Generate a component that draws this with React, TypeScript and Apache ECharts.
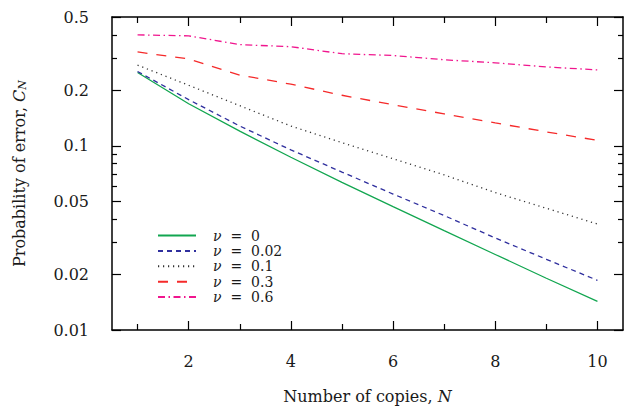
import React, { useEffect, useRef } from "react";
import * as echarts from "echarts";

const copies = [1, 2, 3, 4, 5, 6, 7, 8, 9, 10];
const nu0 = [0.25, 0.169, 0.12, 0.0866, 0.0633, 0.0467, 0.0346, 0.0257, 0.0191, 0.0143];
const nu002 = [0.253, 0.178, 0.128, 0.095, 0.072, 0.0547, 0.0418, 0.0316, 0.0242, 0.0186];
const nu01 = [0.274, 0.213, 0.165, 0.128, 0.104, 0.085, 0.0695, 0.0557, 0.0458, 0.0376];
const nu03 = [0.323, 0.296, 0.242, 0.216, 0.188, 0.167, 0.149, 0.133, 0.119, 0.107];
const nu06 = [0.4, 0.395, 0.354, 0.345, 0.316, 0.309, 0.293, 0.282, 0.268, 0.258];
const legendNames = ["ν = 0", "ν = 0.02", "ν = 0.1", "ν = 0.3", "ν = 0.6"];
const xMajorTicks = [2, 4, 6, 8, 10];
const xMinorTicks = [1, 3, 5, 7, 9];
const yMajorTicks = [0.01, 0.02, 0.05, 0.1, 0.2, 0.5];
const yMinorTicks = [0.03, 0.04, 0.06, 0.07, 0.08, 0.09, 0.3, 0.4];

const FONT = "'DejaVu Serif', 'Liberation Serif', serif";
const TXT = "#1a1a1a";
const FS = 16;
const LFS = 14;

export default function App() {
  const ref = useRef<HTMLDivElement>(null);
  useEffect(() => {
    if (!ref.current) return;
    const chart = echarts.init(ref.current, null, { renderer: "svg" });
    const mk = (ys: number[]) => copies.map((x, i) => [x, ys[i]]);
    const axisLine = { show: true, onZero: false, lineStyle: { color: "#000", width: 1.5 } };
    const xBase = (pos: string, ticks: number[], len: number, labels: boolean, line: boolean) => ({
      type: "value",
      position: pos,
      min: 0.5,
      max: 10.5,
      axisLine: line ? axisLine : { show: false },
      axisTick: { show: true, inside: true, length: len, customValues: ticks, lineStyle: { color: "#000", width: 1.2 } },
      axisLabel: labels
        ? { show: true, customValues: ticks, fontFamily: FONT, fontSize: FS, color: TXT, margin: 23 }
        : { show: false },
      splitLine: { show: false },
    });
    const yBase = (pos: string, ticks: number[], len: number, labels: boolean, line: boolean) => ({
      type: "log",
      logBase: 10,
      position: pos,
      min: 0.01,
      max: 0.5,
      axisLine: line ? axisLine : { show: false },
      axisTick: { show: true, inside: true, length: len, customValues: ticks, lineStyle: { color: "#000", width: 1.2 } },
      axisLabel: labels
        ? { show: true, customValues: ticks, fontFamily: FONT, fontSize: FS, color: TXT, margin: 23, formatter: (v: number) => String(+v.toPrecision(3)) }
        : { show: false },
      splitLine: { show: false },
      minorTick: { show: false },
      minorSplitLine: { show: false },
    });
    const xAxes: any[] = [
      {
        ...xBase("bottom", xMajorTicks, 9, true, true),
        name: "Number of copies, {it|N}",
        nameLocation: "middle",
        nameGap: 58,
        nameTextStyle: {
          fontFamily: FONT,
          fontSize: FS,
          color: TXT,
          rich: { it: { fontFamily: FONT, fontSize: FS, fontStyle: "italic", color: TXT } },
        },
      },
      xBase("bottom", xMinorTicks, 6, false, false),
      xBase("top", xMajorTicks, 9, false, true),
      xBase("top", xMinorTicks, 6, false, false),
    ];
    const yAxes: any[] = [
      {
        ...yBase("left", yMajorTicks, 9, true, true),
        name: "Probability of error, {it|C}{sub|N}",
        nameLocation: "middle",
        nameGap: 84,
        nameRotate: 90,
        nameTextStyle: {
          fontFamily: FONT,
          fontSize: FS,
          color: TXT,
          rich: {
            it: { fontFamily: FONT, fontSize: FS, fontStyle: "italic", color: TXT },
            sub: { fontFamily: FONT, fontSize: 11, fontStyle: "italic", color: TXT, verticalAlign: "bottom", padding: [7, 0, 0, 0] },
          },
        },
      },
      yBase("left", yMinorTicks, 5, false, false),
      yBase("right", yMajorTicks, 9, false, true),
      yBase("right", yMinorTicks, 5, false, false),
    ];
    const seriesDefs = [
      { name: legendNames[0], data: nu0, color: "#12a650", type: "solid" as any },
      { name: legendNames[1], data: nu002, color: "#2f2f9e", type: [5, 4] },
      { name: legendNames[2], data: nu01, color: "#333333", type: [1.2, 3.8] },
      { name: legendNames[3], data: nu03, color: "#f52a2a", type: [10, 9] },
      { name: legendNames[4], data: nu06, color: "#f0168e", type: [7, 3.5, 1.5, 3.5] },
    ];
    chart.setOption({
      animation: false,
      backgroundColor: "#fff",
      grid: { left: 112, right: 2, top: 17, bottom: 76, containLabel: false },
      xAxis: xAxes,
      yAxis: yAxes,
      legend: {
        orient: "vertical",
        left: 157,
        top: 228,
        itemWidth: 38,
        itemHeight: 15,
        itemGap: 0.4,
        padding: 0,
        itemStyle: { color: "transparent", borderWidth: 0, opacity: 0 },
        textStyle: {
          fontFamily: FONT,
          fontSize: LFS,
          color: TXT,
          lineHeight: 15,
          padding: [0, 0, 0, 12],
          rich: { it: { fontFamily: FONT, fontSize: LFS, fontStyle: "italic", color: TXT, lineHeight: 15 } },
        },
        formatter: (n: string) => n.replace("ν", "{it|ν}").replace(" = ", "  =  "),
        data: legendNames,
      },
      series: seriesDefs.map((s) => ({
        name: s.name,
        type: "line",
        xAxisIndex: 0,
        yAxisIndex: 0,
        data: mk(s.data),
        showSymbol: false,
        symbol: "none",
        color: s.color,
        lineStyle: { color: s.color, width: 1.3, type: s.type },
      })),
    });
    return () => chart.dispose();
  }, []);
  return <div ref={ref} style={{ position: "fixed", left: 0, top: 0, width: 625, height: 409 }} />;
}
